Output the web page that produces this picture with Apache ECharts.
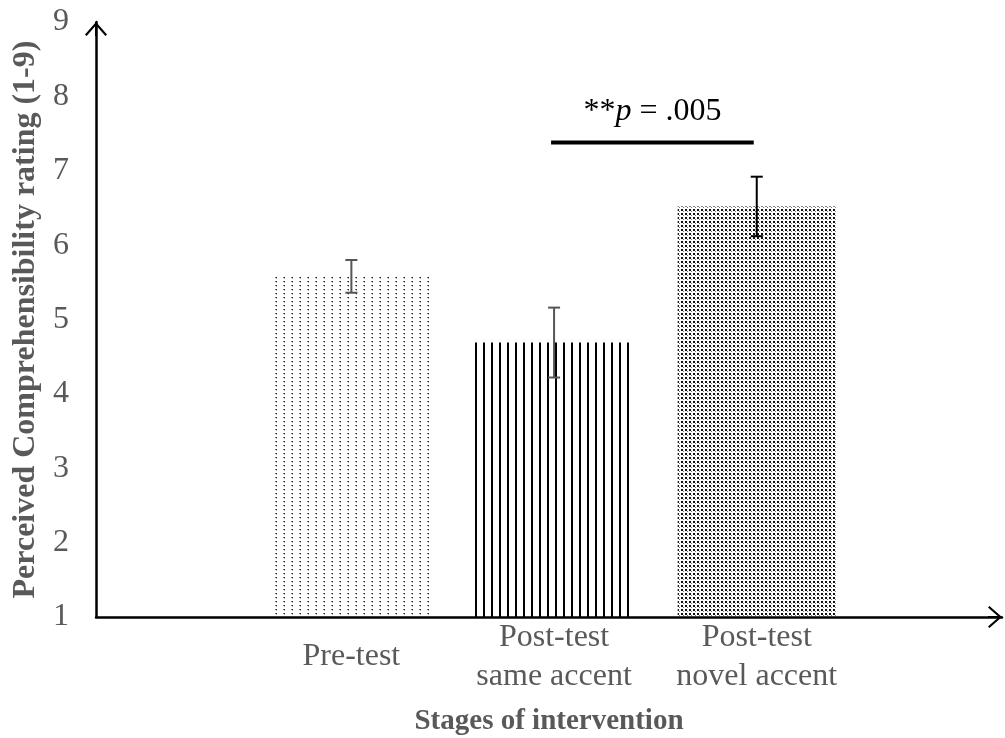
<!DOCTYPE html>
<html>
<head>
<meta charset="utf-8">
<script src="https://cdn.jsdelivr.net/npm/echarts@6/dist/echarts.min.js"></script>
<style>
  html, body { margin: 0; padding: 0; background: #fff; }
  #chart { width: 1005px; height: 738px; }
</style>
</head>
<body>
<div id="chart"></div>
<script>
// Mean perceived comprehensibility per stage, with error-bar half widths
const categories = ['Pre-test', 'Post-test\nsame accent', 'Post-test\nnovel accent'];
const meanRatings = [5.58, 4.69, 6.52];
const errorMargins = [0.22, 0.47, 0.40];
const yTicks = [1, 2, 3, 4, 5, 6, 7, 8, 9];

// Significance bracket between two stages (1-based stage numbers)
const sigPair = [2, 3];
const sigLevel = 7.38;
const sigLabel = { stars: '**', symbol: 'p', rest: ' = .005' };

const FONT = "'Liberation Serif', 'Times New Roman', serif";
const GREY = '#595959';

// Small repeating tiles used as bar fills
function makeTile(w, h, draw) {
  const c = document.createElement('canvas');
  c.width = w; c.height = h;
  const g = c.getContext('2d');
  g.fillStyle = '#fff';
  g.fillRect(0, 0, w, h);
  draw(g);
  return { image: c, repeat: 'repeat' };
}
const barFills = [
  // sparse dots
  makeTile(8, 4, g => {
    g.fillStyle = '#333'; g.fillRect(4, 1, 1, 1);
    g.fillStyle = '#666'; g.fillRect(3, 1, 1, 1);
    g.fillStyle = '#aaa'; g.fillRect(4, 2, 1, 1);
  }),
  // vertical rules
  makeTile(8, 4, g => { g.fillStyle = '#000'; g.fillRect(3, 0, 2, 4); }),
  // dense dots
  makeTile(4, 4, g => {
    g.fillStyle = '#111'; g.fillRect(1, 1, 2, 2);
    g.fillStyle = '#777'; g.fillRect(3, 3, 1, 1);
  })
];
const errorColors = ['#555555', '#555555', '#000000'];

// Open arrow head with a centre stem so the axis line runs to its tip
const arrowHead = 'path://M11,0 L22,12.6 L20.4,14 L11,3.2 L1.6,14 L0,12.6 Z M10,0 L12,0 L12,14 L10,14 Z';

const barData = meanRatings.map((v, i) => [i + 1, v]);
const errData = meanRatings.map((v, i) => [i + 1, v - errorMargins[i], v + errorMargins[i]]);
const yMin = yTicks[0];
const yMax = yTicks[yTicks.length - 1];
const barSpan = 0.78;

const chart = echarts.init(document.getElementById('chart'), null, { renderer: 'canvas' });

chart.setOption({
  animation: false,
  backgroundColor: '#fff',
  grid: { left: 96, right: 3, top: 22, bottom: 121, outerBoundsMode: 'none' },
  xAxis: {
    type: 'value',
    min: -0.26,
    max: 4.21,
    z: 10,
    name: 'Stages of intervention',
    nameLocation: 'middle',
    nameGap: 90,
    nameTextStyle: { fontFamily: FONT, fontSize: 29, fontWeight: 'bold', color: GREY },
    axisLine: {
      show: true, onZero: false,
      symbol: ['none', arrowHead], symbolSize: [22, 14], symbolOffset: [0, -7],
      lineStyle: { color: '#000', width: 2.5 }
    },
    axisTick: { show: false },
    splitLine: { show: false },
    axisLabel: {
      customValues: categories.map((c, i) => i + 1),
      formatter: v => categories[Math.round(v) - 1] || '',
      fontFamily: FONT, fontSize: 32, lineHeight: 39, color: GREY,
      verticalAlign: 'middle', margin: 40
    }
  },
  yAxis: {
    type: 'value',
    min: yMin,
    max: yMax,
    interval: 1,
    z: 10,
    name: 'Perceived Comprehensibility rating (1-9)',
    nameLocation: 'middle',
    nameGap: 52,
    nameTextStyle: { fontFamily: FONT, fontSize: 32, fontWeight: 'bold', color: GREY },
    axisLine: {
      show: true, onZero: false,
      symbol: ['none', arrowHead], symbolSize: [22, 14], symbolOffset: [0, -7],
      lineStyle: { color: '#000', width: 2.5 }
    },
    axisTick: { show: false },
    splitLine: { show: false },
    axisLabel: { fontFamily: FONT, fontSize: 32, color: GREY, margin: 27 }
  },
  series: [
    {
      type: 'custom',
      name: 'bars',
      z: 2,
      data: barData,
      renderItem: (params, api) => {
        const x = api.value(0);
        const top = api.coord([x, api.value(1)]);
        const base = api.coord([x, yMin]);
        const w = api.size([barSpan, 0])[0];
        return {
          type: 'rect',
          shape: { x: top[0] - w / 2, y: top[1], width: w, height: base[1] - top[1] },
          style: { fill: barFills[params.dataIndex] }
        };
      }
    },
    {
      type: 'custom',
      name: 'error',
      z: 3,
      data: errData,
      renderItem: (params, api) => {
        const x = api.value(0);
        const lo = api.coord([x, api.value(1)]);
        const hi = api.coord([x, api.value(2)]);
        const cap = 6;
        const st = { stroke: errorColors[params.dataIndex], lineWidth: 2 };
        return {
          type: 'group',
          children: [
            { type: 'line', shape: { x1: lo[0], y1: lo[1], x2: hi[0], y2: hi[1] }, style: st },
            { type: 'line', shape: { x1: hi[0] - cap, y1: hi[1], x2: hi[0] + cap, y2: hi[1] }, style: st },
            { type: 'line', shape: { x1: lo[0] - cap, y1: lo[1], x2: lo[0] + cap, y2: lo[1] }, style: st }
          ]
        };
      }
    },
    {
      type: 'custom',
      name: 'significance',
      z: 4,
      data: [[sigPair[0], sigPair[1], sigLevel]],
      renderItem: (params, api) => {
        const a = api.coord([api.value(0), api.value(2)]);
        const b = api.coord([api.value(1), api.value(2)]);
        return {
          type: 'group',
          children: [
            { type: 'line', shape: { x1: a[0] - 3, y1: a[1], x2: b[0] - 3, y2: b[1] }, style: { stroke: '#000', lineWidth: 4 } },
            {
              type: 'text',
              x: (a[0] + b[0]) / 2 - 3,
              y: a[1] - 31,
              style: {
                text: '{n|' + sigLabel.stars + '}{i|' + sigLabel.symbol + '}{n|' + sigLabel.rest + '}',
                align: 'center',
                verticalAlign: 'middle',
                rich: {
                  n: { fontFamily: FONT, fontSize: 32, fill: '#000' },
                  i: { fontFamily: FONT, fontSize: 32, fontStyle: 'italic', fill: '#000' }
                }
              }
            }
          ]
        };
      }
    }
  ]
});
</script>
</body>
</html>
